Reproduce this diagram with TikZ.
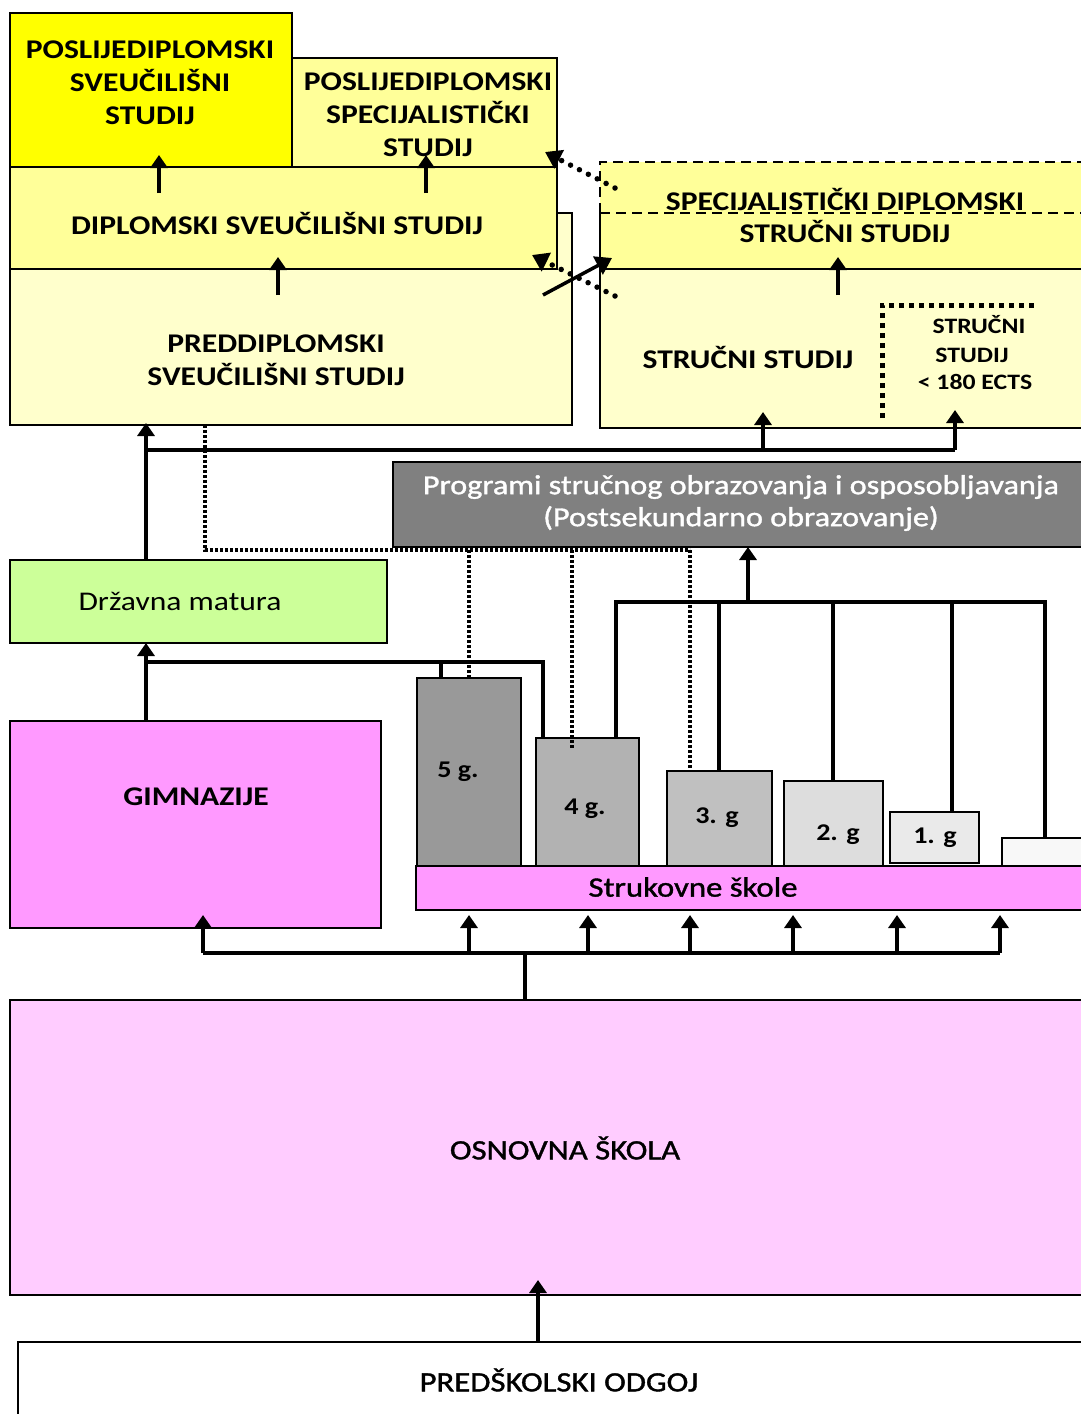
\documentclass[tikz,border=0pt]{standalone}
\usepackage{fontspec}
\setmainfont{Carlito}[FakeStretch=1.17]
\newfontfamily\medf{Carlito}[FakeStretch=1.17,FakeBold=1.3]
\usetikzlibrary{arrows.meta,fit}
\definecolor{yA}{HTML}{FFFF00}
\definecolor{yB}{HTML}{FFFF99}
\definecolor{yD}{HTML}{FFFFCC}
\definecolor{prg}{HTML}{808080}
\definecolor{grn}{HTML}{CCFF99}
\definecolor{mag}{HTML}{FF99FF}
\definecolor{osn}{HTML}{FFCCFF}
\definecolor{gv}{HTML}{999999}
\definecolor{giv}{HTML}{B2B2B2}
\definecolor{giii}{HTML}{C0C0C0}
\definecolor{gii}{HTML}{DDDDDD}
\definecolor{gi}{HTML}{EAEAEA}
\definecolor{gz}{HTML}{F8F8F8}
\begin{document}
\begin{tikzpicture}[x=1pt,y=-1pt,
  bx/.style={draw, line width=2.5pt, inner sep=0pt, outer sep=0pt},
  ln/.style={line width=3.5pt},
  arr/.style={line width=3.5pt, -{Triangle[width=17pt,length=13pt]}},
  sq/.style={line width=4pt, dash pattern=on 3pt off 2pt},
  rd/.style={line width=5.5pt, line cap=round, dash pattern=on 0pt off 10pt},
  dsh/.style={line width=2.5pt, dash pattern=on 10pt off 6pt},
  capb/.style={font=\fontsize{27}{33}\selectfont\bfseries, align=center, inner sep=0pt},
  smb/.style={font=\fontsize{22}{28}\selectfont\bfseries, align=center, inner sep=0pt},
  reg/.style={font=\fontsize{27}{33}\selectfont, align=center, inner sep=0pt},
  med/.style={font=\fontsize{28}{33}\medf, align=center, inner sep=0pt},
  gl/.style={font=\fontsize{24}{28}\selectfont\bfseries, inner sep=0pt},
  prgt/.style={font=\fontsize{27.5}{32}\medf, text=white, align=center, inner sep=0pt}
]
\useasboundingbox (0,0) rectangle (1080,1414);

% ---------------- university (left) ----------------
\node[bx, fill=yA, fit={(10,13) (292,167)}] (A) {};
\node[bx, fill=yB, fit={(292,58) (557,167)}] (B) {};
\node[bx, fill=yD, fit={(10,213) (572,425)}] (D) {};
\node[bx, fill=yB, fit={(10,167) (557,269)}] (C) {};
\node[capb] (tA) at (150,83) {POSLIJEDIPLOMSKI\\SVEUČILIŠNI\\STUDIJ};
\node[capb] (tB) at (428,115) {POSLIJEDIPLOMSKI\\SPECIJALISTIČKI\\STUDIJ};
\node[capb] (tC) at (277,223) {DIPLOMSKI SVEUČILIŠNI STUDIJ};
\node[capb] (tD) at (276,360) {PREDDIPLOMSKI\\SVEUČILIŠNI STUDIJ};

% ---------------- professional (right) ----------------
\node[bx, fill=yD, fit={(600,213) (1095,428)}] (F) {};
\node[fill=yB, inner sep=0pt, outer sep=0pt, fit={(600,162) (1095,269)}] (E) {};
\draw[line width=2.5pt] (E.north west |- F.north) -- (E.south west) -- (E.south east);
\draw[dsh] (E.north west |- F.north) -- (E.north west) -- (E.north east);
\draw[dsh] (E.west |- F.north) -- (E.east |- F.north);
\node[capb] (tE1) at (845,199) {SPECIJALISTIČKI DIPLOMSKI};
\node[capb] (tE2) at (845,231) {STRUČNI STUDIJ};
\node[capb] (tF) at (748,357) {STRUČNI STUDIJ};
\coordinate (ds1) at (882,305);
\coordinate (ds2) at (1038,305);
\draw[line width=5pt, dash pattern=on 5pt off 5pt] (ds1 |- F.south) ++(0,-10) -- (ds1) -- (ds2);
\node[smb] (tS1) at (979,325) {STRUČNI};
\node[smb] (tS2) at (972,355) {STUDIJ};
\node[smb] (tS3) at (975,382) {< 180 ECTS};

% arrows inside upper groups
\coordinate (cA) at (159,193);
\coordinate (cB) at (426,193);
\coordinate (cC) at (278,295);
\coordinate (cE) at (838,295);
\draw[arr, shorten >=-12pt] (cA) -- (cA |- A.south);
\draw[arr, shorten >=-12pt] (cB) -- (cB |- B.south);
\draw[arr, shorten >=-12pt] (cC) -- (cC |- C.south);
\draw[arr, shorten >=-12pt] (cE) -- (cE |- E.south);

% cross-over arrows
\coordinate (x1s) at (615,188);
\coordinate (x1e) at (545,152);
\coordinate (x2s) at (615,296);
\coordinate (x2e) at (532,255);
\coordinate (x3s) at (543,295);
\coordinate (x3e) at (612,258);
\draw[rd, -{Triangle[width=20pt,length=16pt]}] (x1s) -- (x1e);
\draw[rd, -{Triangle[width=20pt,length=16pt]}] (x2s) -- (x2e);
\draw[line width=3.5pt, -{Triangle[width=20pt,length=16pt]}] (x3s) -- (x3e);

% ---------------- Programi ----------------
\node[bx, fill=prg, fit={(393,462) (1095,547)}] (P) {};
\node[prgt] (tP) at (741,503) {Programi stručnog obrazovanja i osposobljavanja\\(Postsekundarno obrazovanje)};

% ---------------- Matura ----------------
\node[bx, fill=grn, fit={(10,560) (387,643)}] (M) {};
\node[reg] (tM) at (180,601) {Državna matura};

% ---------------- Gimnazije ----------------
\node[bx, fill=mag, fit={(10,721) (381,928)}] (G) {};
\node[capb] (tG) at (196,797) {GIMNAZIJE};

% ---------------- grades ----------------
\node[bx, fill=gv,   fit={(417,678) (521,866)}] (g5) {};
\node[bx, fill=giv,  fit={(536,738) (639,866)}] (g4) {};
\node[bx, fill=giii, fit={(667,771) (772,866)}] (g3) {};
\node[bx, fill=gii,  fit={(784,781) (883,866)}] (g2) {};
\node[bx, fill=gi,   fit={(890,812) (979,863)}] (g1) {};
\node[bx, fill=gz,   fit={(1002,838) (1095,866)}] (g0) {};
\node[gl] at (458,772) {5 g.};
\node[gl] at (585,809) {4 g.};
\node[gl] at (717,818) {3. g};
\node[gl] at (838,835) {2. g};
\node[gl] at (935,838) {1. g};
\node[bx, fill=mag, fit={(416,866) (1095,910)}] (S) {};
\node[med] (tS) at (693,887) {Strukovne škole};

% ---------------- Osnovna / Predskolski ----------------
\node[bx, fill=osn, fit={(10,1000) (1095,1295)}] (O) {};
\node[med] (tO) at (565,1148) {OSNOVNA ŠKOLA};
\node[bx, fill=white, fit={(18,1342) (1095,1430)}] (PS) {};
\node[med] (tPS) at (559,1380) {PREDŠKOLSKI ODGOJ};

% ---------------- connectors ----------------
% Matura -> university, branch to professional
\coordinate (mx) at (146,450);
\coordinate (f1) at (763,450);
\coordinate (f2) at (955,450);
\draw[arr, shorten >=-2pt] (M.north -| mx) -- (D.south -| mx);
\draw[ln] (mx) -- (f2);
\draw[arr, shorten >=-16pt] (f1) -- (f1 |- F.south);
\draw[arr, shorten >=-18pt] (f2) -- (f2 |- F.south);

% dotted from university down to vocational grades
\coordinate (dd) at (205,550);
\coordinate (d5) at (469,550);
\coordinate (d4) at (572,550);
\coordinate (d3) at (690,550);
\draw[sq] (dd |- D.south) -- (dd) -- (d3);
\draw[sq] (d5) -- (d5 |- g5.north);
\draw[sq] (d4) -- (572,748);
\draw[sq] (d3) -- (d3 |- g3.north);

% Gimnazije + 5g/4g -> Matura
\coordinate (gx) at (146,662);
\coordinate (gr) at (543,662);
\coordinate (g5c) at (441,662);
\draw[arr] (G.north -| gx) -- (M.south -| gx);
\draw[ln] (gx) -- (gr) -- (gr |- g4.north);
\draw[ln] (g5c) -- (g5c |- g5.north);

% grades -> Programi
\coordinate (t4) at (616,602);
\coordinate (t3) at (719,602);
\coordinate (t2) at (833,602);
\coordinate (t1) at (952,602);
\coordinate (t0) at (1045,602);
\coordinate (tp) at (748,602);
\draw[ln] (t4 |- g4.north) -- (t4) -- (t0) -- (t0 |- g0.north);
\draw[ln] (t3) -- (t3 |- g3.north);
\draw[ln] (t2) -- (t2 |- g2.north);
\draw[ln] (t1) -- (t1 |- g1.north);
\draw[arr] (tp) -- (tp |- P.south);

% Osnovna -> secondary
\coordinate (bG) at (203,953);
\coordinate (b1) at (469,953);
\coordinate (b2) at (588,953);
\coordinate (b3) at (690,953);
\coordinate (b4) at (793,953);
\coordinate (b5) at (897,953);
\coordinate (b6) at (1000,953);
\coordinate (bo) at (525,953);
\draw[ln] (bG) -- (b6);
\draw[ln] (bo) -- (bo |- O.north);
\draw[arr, shorten >=-13pt] (bG) -- (bG |- G.south);
\foreach \b in {b1,b2,b3,b4,b5,b6}{
  \draw[arr, shorten >=5pt] (\b) -- (\b |- S.south);
}

% Predskolski -> Osnovna
\coordinate (po) at (538,1342);
\draw[arr, shorten >=-15pt] (po |- PS.north) -- (po |- O.south);
\end{tikzpicture}
\end{document}
